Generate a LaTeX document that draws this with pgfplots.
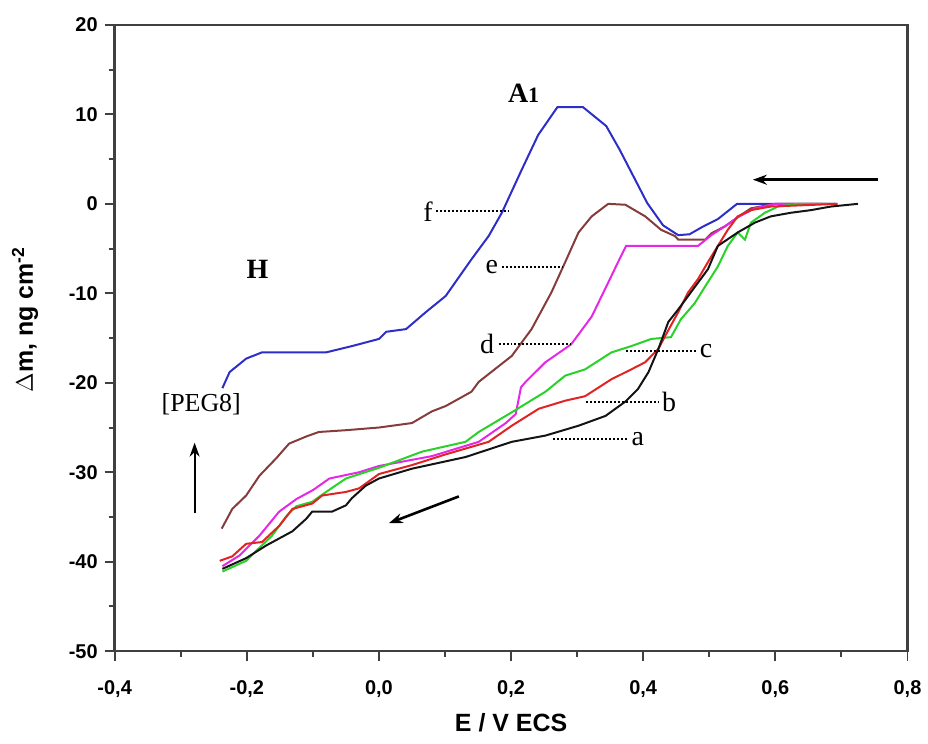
\documentclass[border=0pt]{standalone}
\usepackage{pgfplots}
\pgfplotsset{compat=1.18}
\usepackage{fontspec}
\setmainfont{Liberation Serif}
\setsansfont{Liberation Sans}
\usetikzlibrary{arrows.meta,calc}
\definecolor{cf}{RGB}{45,45,200}
\definecolor{ce}{RGB}{135,60,60}
\definecolor{cd}{RGB}{230,40,230}
\definecolor{cc}{RGB}{40,210,40}
\definecolor{cb}{RGB}{225,35,35}
\definecolor{ca}{RGB}{20,20,20}
\begin{document}
\begin{tikzpicture}
\begin{axis}[
  name=ax,
  scale only axis,
  width=397.5pt, height=314pt,
  xmin=-0.4, xmax=0.8, ymin=-50, ymax=20,
  xtick={-0.4,-0.2,0,0.2,0.4,0.6,0.8},
  ytick={-50,-40,-30,-20,-10,0,10,20},
  minor tick num=1,
  tick pos=left,
  tick align=outside,
  major tick length=5pt, minor tick length=3pt,
  every tick/.style={line width=1pt, black!75},
  axis line style={line width=1.3pt, black!75},
  /pgf/number format/assume math mode=true,
  xticklabel={\pgfmathprintnumber[fixed,fixed zerofill,precision=1,use comma]{\tick}},
  yticklabel={\pgfmathprintnumber[fixed,precision=0]{\tick}},
  ticklabel style={font=\sffamily\bfseries\fontsize{10}{11}\selectfont},
  xticklabel style={yshift=-6pt},
  xlabel={E / V ECS},
  ylabel={$\Delta$m, ng cm\textsuperscript{-2}},
  xlabel style={font=\sffamily\bfseries\fontsize{12.5}{14}\selectfont, at={(axis description cs:0.5,-0.115)}, anchor=center},
  ylabel style={font=\sffamily\bfseries\fontsize{12.5}{14}\selectfont, at={(axis description cs:-0.113,0.53)}, anchor=center},
  clip=false,
  every axis plot/.append style={line width=1pt},
]
% f (blue)
\addplot[cf] coordinates {(-0.237,-20.6) (-0.226,-18.8) (-0.201,-17.3) (-0.177,-16.6) (-0.080,-16.6) (-0.041,-15.9) (0.000,-15.1) (0.011,-14.3) (0.041,-14.0) (0.071,-12.1) (0.101,-10.3) (0.140,-6.2) (0.166,-3.6) (0.186,-1.0) (0.216,3.8) (0.241,7.7) (0.270,10.8) (0.309,10.8) (0.344,8.7) (0.364,6.1) (0.406,0.1) (0.430,-2.4) (0.453,-3.5) (0.470,-3.4) (0.489,-2.6) (0.513,-1.7) (0.542,0) (0.694,0)};
% e (brown)
\addplot[ce] coordinates {(-0.238,-36.3) (-0.222,-34.1) (-0.201,-32.6) (-0.181,-30.4) (-0.155,-28.4) (-0.136,-26.8) (-0.110,-26.0) (-0.091,-25.5) (-0.050,-25.3) (0.000,-25.0) (0.050,-24.5) (0.080,-23.2) (0.101,-22.6) (0.140,-21.0) (0.151,-19.9) (0.201,-17.0) (0.231,-14.0) (0.261,-9.9) (0.282,-6.5) (0.302,-3.2) (0.322,-1.4) (0.347,0.0) (0.373,-0.1) (0.403,-1.4) (0.427,-2.9) (0.448,-3.6) (0.453,-4.0) (0.494,-4.0) (0.503,-3.3) (0.524,-2.5) (0.543,-1.5) (0.563,-0.5) (0.600,0) (0.690,0)};
% d (magenta)
\addplot[cd] coordinates {(-0.237,-40.5) (-0.211,-39.3) (-0.181,-37.1) (-0.151,-34.4) (-0.125,-33.0) (-0.100,-32.0) (-0.075,-30.7) (-0.030,-30.0) (0.000,-29.3) (0.080,-28.2) (0.151,-26.6) (0.192,-24.5) (0.207,-23.5) (0.215,-20.5) (0.222,-19.9) (0.252,-17.7) (0.291,-15.7) (0.322,-12.6) (0.347,-8.8) (0.362,-6.5) (0.374,-4.7) (0.483,-4.7) (0.503,-3.5) (0.524,-2.5) (0.543,-1.5) (0.569,-0.5) (0.600,0) (0.670,0)};
% c (green)
\addplot[cc] coordinates {(-0.237,-41.1) (-0.201,-39.9) (-0.186,-38.8) (-0.162,-37.1) (-0.140,-34.9) (-0.125,-33.8) (-0.101,-33.3) (-0.080,-32.2) (-0.050,-30.7) (0.000,-29.5) (0.065,-27.7) (0.131,-26.6) (0.151,-25.5) (0.201,-23.3) (0.252,-21.0) (0.282,-19.2) (0.312,-18.5) (0.352,-16.6) (0.382,-15.9) (0.412,-15.1) (0.442,-14.9) (0.457,-12.9) (0.478,-11.1) (0.494,-9.2) (0.513,-7.0) (0.528,-4.7) (0.543,-3.2) (0.554,-4.0) (0.563,-2.1) (0.584,-1.0) (0.604,-0.3) (0.634,0) (0.680,0)};
% b (red)
\addplot[cb] coordinates {(-0.241,-39.9) (-0.222,-39.4) (-0.201,-38.0) (-0.177,-37.8) (-0.151,-36.0) (-0.131,-34.1) (-0.101,-33.5) (-0.086,-32.6) (-0.050,-32.2) (-0.030,-31.8) (0.000,-30.2) (0.050,-29.2) (0.101,-28.0) (0.166,-26.6) (0.201,-24.8) (0.242,-22.9) (0.282,-22.0) (0.312,-21.5) (0.352,-19.6) (0.382,-18.5) (0.403,-17.7) (0.423,-16.2) (0.433,-14.8) (0.453,-12.1) (0.468,-9.9) (0.483,-8.4) (0.498,-6.5) (0.513,-4.7) (0.528,-2.9) (0.543,-1.4) (0.563,-0.7) (0.593,-0.3) (0.694,0)};
% a (black)
\addplot[ca] coordinates {(-0.237,-40.8) (-0.201,-39.6) (-0.171,-38.2) (-0.151,-37.4) (-0.131,-36.6) (-0.110,-35.2) (-0.101,-34.4) (-0.071,-34.4) (-0.050,-33.7) (-0.041,-32.9) (-0.020,-31.5) (0.000,-30.7) (0.050,-29.6) (0.131,-28.3) (0.201,-26.6) (0.252,-25.9) (0.302,-24.8) (0.343,-23.7) (0.373,-22.1) (0.392,-20.7) (0.408,-18.8) (0.423,-16.2) (0.438,-13.2) (0.453,-11.8) (0.472,-9.9) (0.498,-7.3) (0.513,-4.7) (0.543,-3.2) (0.569,-2.1) (0.593,-1.4) (0.623,-1.0) (0.654,-0.7) (0.684,-0.3) (0.725,0)};
% annotations
\node[font=\bfseries\fontsize{14}{16}\selectfont] at (axis cs:0.219,12.4) {A{\fontsize{11}{12}\selectfont 1}};
\node[font=\bfseries\fontsize{14}{16}\selectfont] at (axis cs:-0.184,-7.3) {H};
\node[font=\fontsize{13}{15}\selectfont] at (axis cs:-0.269,-22.4) {[PEG8]};
\draw[-{Stealth[length=7pt,width=5pt]}, line width=1pt] (axis cs:-0.279,-34.6) -- (axis cs:-0.279,-26.7);
\draw[-{Stealth[length=7pt,width=5pt]}, line width=1.3pt] (axis cs:0.121,-32.7) -- (axis cs:0.015,-35.7);
\draw[-{Stealth[length=7pt,width=5pt]}, line width=1.3pt] (axis cs:0.755,2.7) -- (axis cs:0.566,2.7);
\tikzset{lbl/.style={font=\fontsize{14}{16}\selectfont, inner sep=1pt}, dl/.style={densely dotted, line width=1pt}}
\draw[dl] (axis cs:0.086,-0.85) -- (axis cs:0.196,-0.85);
\node[lbl, anchor=east] at (axis cs:0.085,-0.85) {f};
\draw[dl] (axis cs:0.186,-7.1) -- (axis cs:0.279,-7.1);
\node[lbl, anchor=east] at (axis cs:0.184,-7.1) {e};
\draw[dl] (axis cs:0.181,-15.7) -- (axis cs:0.291,-15.7);
\node[lbl, anchor=east] at (axis cs:0.178,-15.7) {d};
\draw[dl] (axis cs:0.374,-16.5) -- (axis cs:0.480,-16.5);
\node[lbl, anchor=west] at (axis cs:0.482,-16.5) {c};
\draw[dl] (axis cs:0.314,-22.1) -- (axis cs:0.423,-22.1);
\node[lbl, anchor=west] at (axis cs:0.425,-22.1) {b};
\draw[dl] (axis cs:0.264,-26.3) -- (axis cs:0.377,-26.3);
\node[lbl, anchor=west] at (axis cs:0.379,-26.3) {a};
\end{axis}
\useasboundingbox ($(ax.south west)+(-57.5pt,-46.5pt)$) rectangle ($(ax.north east)+(9pt,12.5pt)$);
\end{tikzpicture}
\end{document}
